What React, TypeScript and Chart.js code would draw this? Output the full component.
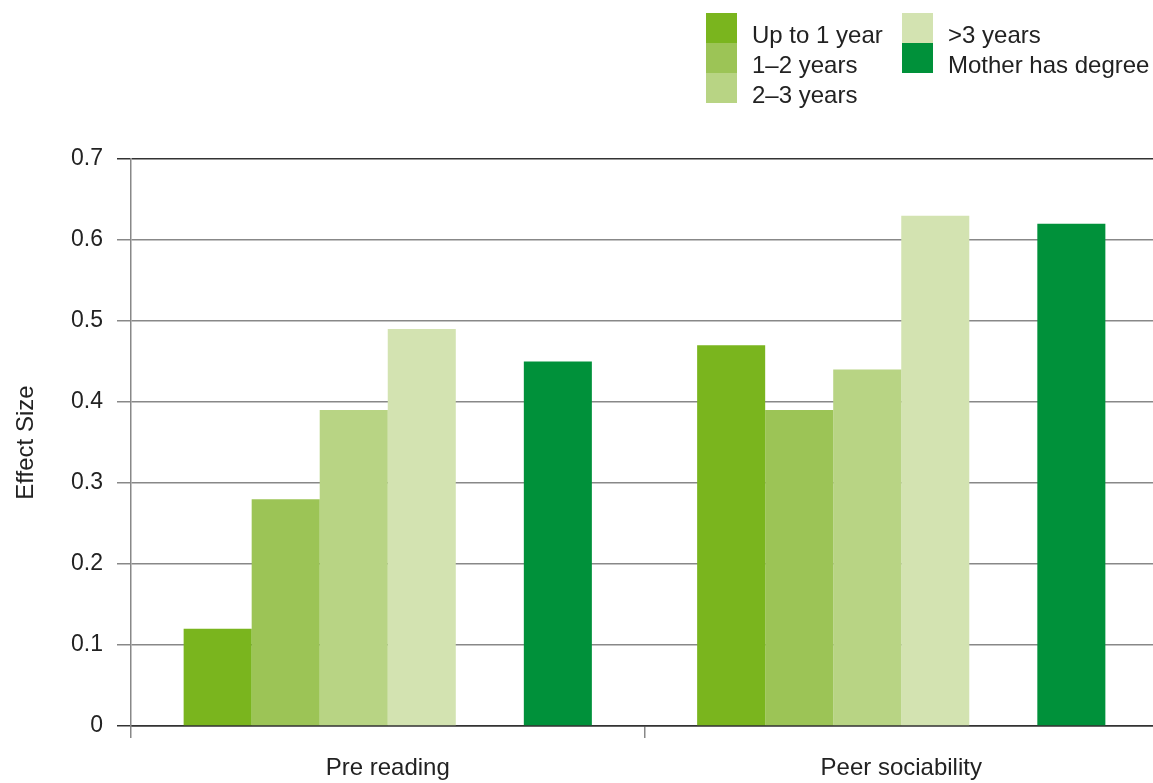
import React, { useEffect, useRef } from "react";
import { Chart, registerables } from "chart.js";

Chart.register(...registerables);

const categories = ["Pre reading", "Peer sociability"];
const seriesNames = ["Up to 1 year", "1–2 years", "2–3 years", ">3 years", "Mother has degree"];
const upTo1Year = [0.12, 0.47];
const oneToTwoYears = [0.28, 0.39];
const twoToThreeYears = [0.39, 0.44];
const overThreeYears = [0.49, 0.63];
const motherHasDegree = [0.45, 0.62];
const yTicks = [0, 0.1, 0.2, 0.3, 0.4, 0.5, 0.6, 0.7];
const colors = ["#7AB51E", "#9CC456", "#B8D484", "#D3E3B1", "#00913A"];

const FONT = "'Liberation Sans', Arial, Helvetica, sans-serif";
const CANVAS_W = 1158;

export default function App() {
  const ref = useRef<HTMLCanvasElement | null>(null);

  useEffect(() => {
    document.body.style.margin = "0";
    const canvas = ref.current;
    if (!canvas) return;
    const series = [upTo1Year, oneToTwoYears, twoToThreeYears, overThreeYears];
    const datasets: any[] = series.map((d, i) => ({
      label: seriesNames[i],
      data: d,
      backgroundColor: colors[i],
      borderWidth: 0,
    }));
    datasets.push({ label: "", data: [null, null], backgroundColor: "rgba(0,0,0,0)" });
    datasets.push({ label: seriesNames[4], data: motherHasDegree, backgroundColor: colors[4], borderWidth: 0 });

    const chart = new Chart(canvas, {
      type: "bar",
      data: { labels: categories, datasets },
      options: {
        animation: false,
        responsive: false,
        layout: { padding: { top: 159, right: 0, bottom: 0, left: 0 } },
        plugins: { legend: { display: false }, tooltip: { enabled: false } },
        datasets: { bar: { categoryPercentage: 0.795, barPercentage: 1 } },
        scales: {
          x: {
            offset: true,
            grid: {
              offset: true,
              drawOnChartArea: false,
              tickLength: 12,
              color: "#888",
              lineWidth: 1.5,
              z: -1,
            },
            border: { display: true, color: "#333", width: 1.5 },
            ticks: { font: { family: FONT, size: 24 }, color: "#222", padding: 16 },
            afterFit: (scale: any) => {
              scale.height = 57;
            },
          },
          y: {
            min: 0,
            max: 0.7,
            afterBuildTicks: (scale: any) => {
              scale.ticks = yTicks.map((v) => ({ value: v }));
            },
            ticks: {
              font: { family: FONT, size: 23 },
              color: "#222",
              padding: 14,
              callback: (v: any) => (Number(v) === 0 ? "0" : Number(v).toFixed(1)),
            },
            grid: {
              tickLength: 14,
              lineWidth: 1.5,
              z: -1,
              color: (ctx: any) => {
                const v = ctx.tick ? ctx.tick.value : null;
                return v === 0 || Math.abs((v ?? 0) - 0.7) < 1e-6 ? "#333" : "#888";
              },
            },
            border: { display: true, color: "#888", width: 1.5 },
            title: {
              display: true,
              text: "Effect Size",
              font: { family: FONT, size: 24 },
              color: "#222",
              padding: { top: 12, bottom: 0 },
            },
            afterFit: (scale: any) => {
              scale.width = 131;
            },
          },
        },
      },
    });
    return () => chart.destroy();
  }, []);

  const legendLeft = [
    { name: seriesNames[0], color: colors[0] },
    { name: seriesNames[1], color: colors[1] },
    { name: seriesNames[2], color: colors[2] },
  ];
  const legendRight = [
    { name: seriesNames[3], color: colors[3] },
    { name: seriesNames[4], color: colors[4] },
  ];

  const renderCol = (items: { name: string; color: string }[], swX: number, txX: number) =>
    items.map((it, i) => (
      <React.Fragment key={it.name}>
        <div
          style={{
            position: "absolute",
            left: swX,
            top: 13 + i * 30,
            width: 31,
            height: 30,
            background: it.color,
          }}
        />
        <div
          style={{
            position: "absolute",
            left: txX,
            top: 20 + i * 30,
            height: 30,
            lineHeight: "30px",
            fontFamily: FONT,
            fontSize: 24,
            color: "#222",
            whiteSpace: "nowrap",
          }}
        >
          {it.name}
        </div>
      </React.Fragment>
    ));

  return (
    <div
      style={{
        position: "fixed",
        left: 0,
        top: 0,
        width: 1153,
        height: 783,
        background: "#fff",
        overflow: "hidden",
      }}
    >
      <canvas ref={ref} width={CANVAS_W} height={783} style={{ position: "absolute", left: 0, top: 0 }} />
      {renderCol(legendLeft, 706, 752)}
      {renderCol(legendRight, 902, 948)}
    </div>
  );
}
